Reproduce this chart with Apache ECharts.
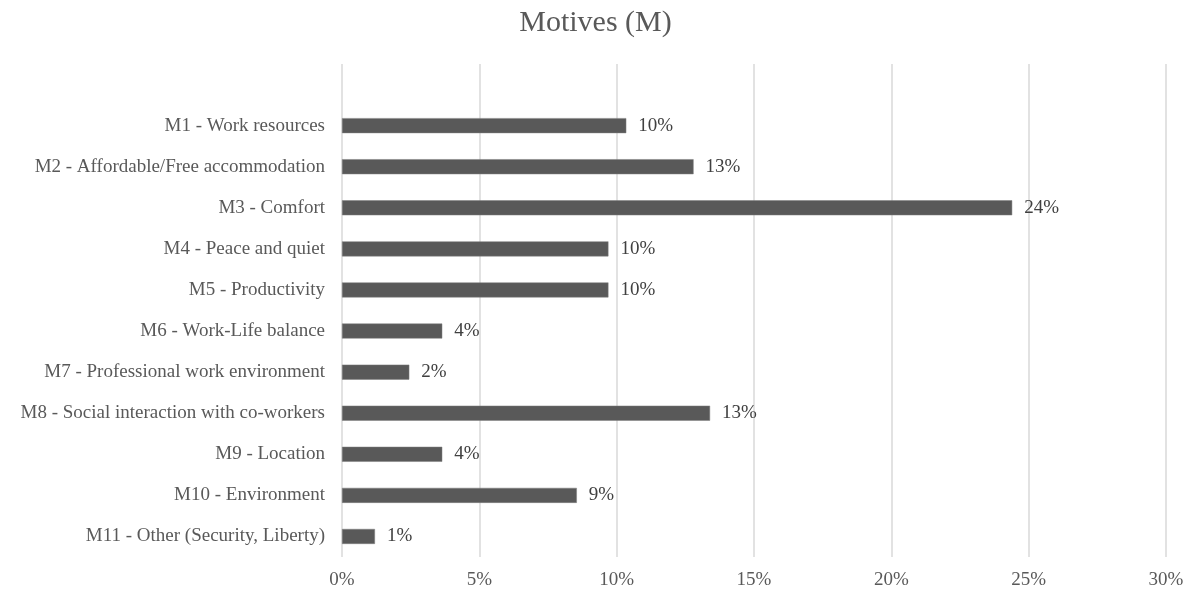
<!DOCTYPE html>
<html><head><meta charset="utf-8">
<script src="https://cdn.jsdelivr.net/npm/echarts@6/dist/echarts.min.js"></script>
<style>html,body{margin:0;padding:0;background:#fff}#c{width:1191px;height:592px}</style>
</head><body><div id="c"></div>
<script>
const categories = ['M1 - Work resources','M2 - Affordable/Free accommodation','M3 - Comfort','M4 - Peace and quiet','M5 - Productivity','M6 - Work-Life balance','M7 - Professional work environment','M8 - Social interaction with co-workers','M9 - Location','M10 - Environment','M11 - Other (Security, Liberty)'];
const values = [10.35, 12.8, 24.4, 9.7, 9.7, 3.65, 2.45, 13.4, 3.65, 8.55, 1.2];
const labels = ['10%','13%','24%','10%','10%','4%','2%','13%','4%','9%','1%'];
const xTicks = ['0%','5%','10%','15%','20%','25%','30%'];

const chart = echarts.init(document.getElementById('c'));
const font = '"Liberation Serif", "Times New Roman", serif';
chart.setOption({
  animation:false,
  title:{text:'Motives (M)',left:'center',top:3,textStyle:{fontFamily:font,fontSize:30,fontWeight:'normal',color:'#595959'}},
  grid:{left:342,right:25,top:64,bottom:35,containLabel:false},
  xAxis:{type:'value',min:0,max:30,interval:5,
    axisLine:{show:false},axisTick:{show:false},
    splitLine:{lineStyle:{color:'#d9d9d9',width:1.5}},
    axisLabel:{formatter:(v)=>xTicks[Math.round(v/5)],fontFamily:font,fontSize:19,color:'#595959',margin:14}},
  yAxis:{type:'category',inverse:true,data:[''].concat(categories),
    axisLine:{show:false},axisTick:{show:false},
    axisLabel:{fontFamily:font,fontSize:19,color:'#595959',margin:17}},
  series:[{type:'bar',data:[null].concat(values),barWidth:15,
    itemStyle:{color:'#595959',borderColor:'#7f7f7f',borderWidth:0.5},
    label:{show:true,position:'right',distance:12,fontFamily:font,fontSize:19,color:'#404040',
      formatter:(p)=>labels[p.dataIndex-1]}}]
});
</script></body></html>
